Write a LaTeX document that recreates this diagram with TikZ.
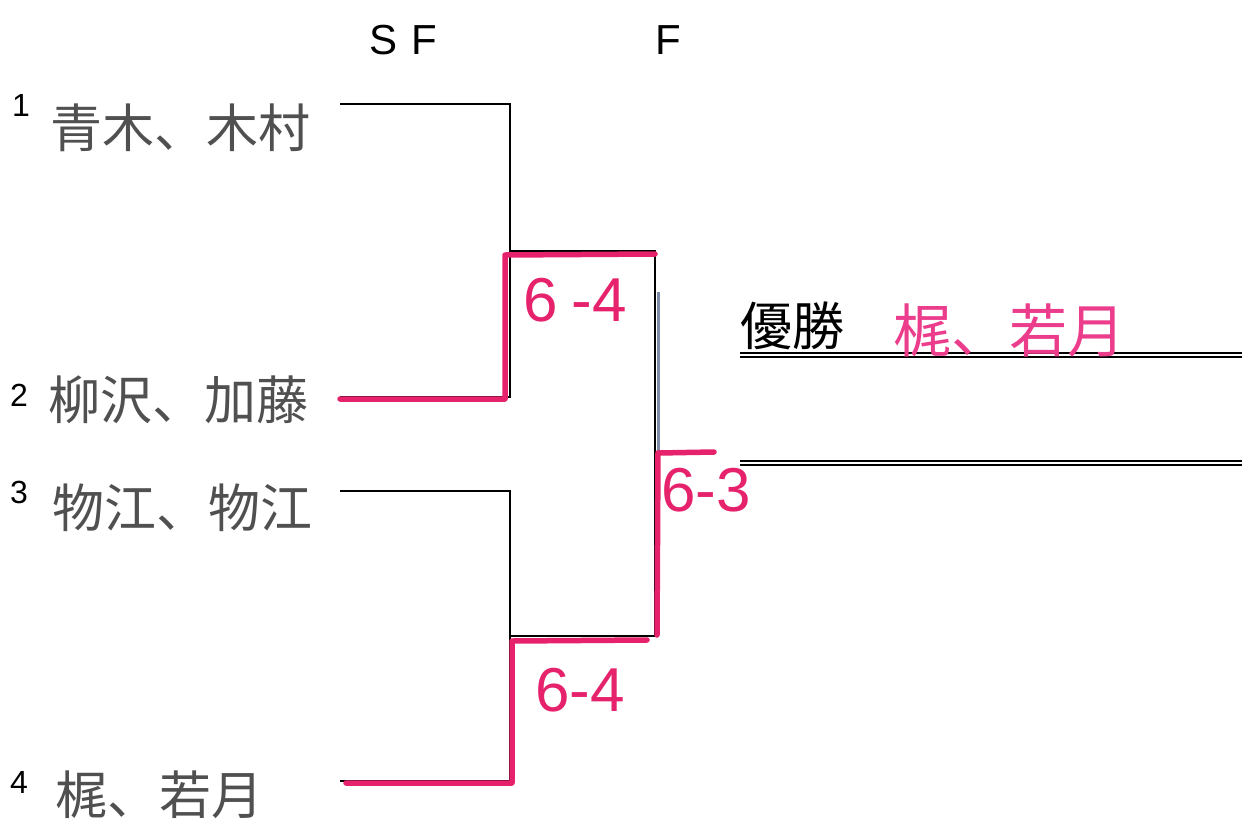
\documentclass[tikz,border=0pt]{standalone}
\usepackage{fontspec}
\setmainfont{Liberation Sans}
\newfontfamily\jp{Noto Sans CJK JP}
\definecolor{ink}{HTML}{505050}
\definecolor{pinkink}{HTML}{E5226B}
\definecolor{lightpink}{HTML}{EC3C8C}
\definecolor{blueink}{HTML}{7C8AA8}
\tikzset{
  bk/.style={draw=black, line width=2.8pt},
  pk/.style={draw=pinkink, line width=5.5pt, line join=round, line cap=round},
  dbl/.style={draw=black, line width=1.8pt},
  namebox/.style={anchor=west, text=ink, font=\jp\fontsize{52}{52}\selectfont, inner sep=0pt},
  numbox/.style={anchor=west, font=\fontsize{32}{32}\selectfont, inner sep=0pt},
  score/.style={text=pinkink, font=\fontsize{62}{62}\selectfont, inner sep=0pt},
  head/.style={font=\fontsize{42}{42}\selectfont, inner sep=0pt}
}
\begin{document}
\begin{tikzpicture}[x=1pt,y=-1pt]
\useasboundingbox[fill=white] (0,0) rectangle (1251,820);
% headers
\node[head] (hsf) at (403,40) {S\hspace{14pt}F};
\node[head] (hf) at (668,40) {F};
% numbers
\node[numbox] (n1) at (12,105) {1};
\node[numbox] (n2) at (10,395) {2};
\node[numbox] (n3) at (10,492) {3};
\node[numbox] (n4) at (10,782) {4};
% names
\node[namebox] (t1) at (50,128) {青木、木村};
\node[namebox] (t2) at (48,400) {柳沢、加藤};
\node[namebox] (t3) at (52,508) {物江、物江};
\node[namebox] (t4) at (55,795) {梶、若月};
% coordinates
\coordinate (p1) at (340,104); \coordinate (s1) at (510,104);
\coordinate (p2) at (340,397); \coordinate (s2) at (510,397);
\coordinate (p3) at (340,491); \coordinate (s3) at (510,491);
\coordinate (p4) at (340,781); \coordinate (s4) at (510,781);
\coordinate (m1) at (510,251); \coordinate (f1) at (655,251);
\coordinate (m2) at (510,636); \coordinate (f2) at (655,636);
% pink path points
\coordinate (q2a) at (340,399); \coordinate (q2b) at (505,399);
\coordinate (q1a) at (505,255); \coordinate (q1b) at (655,254);
\coordinate (q4a) at (346,783); \coordinate (q4b) at (512,783);
\coordinate (q3a) at (512,641); \coordinate (q3b) at (647,640);
\coordinate (fb) at (658,292); \coordinate (fm) at (658,453);
\coordinate (fl) at (657,635); \coordinate (fe) at (714,452);
% black bracket
\draw[bk] (p1) -- (s1) -- (s2) -- (p2);
\draw[bk] (p3) -- (s3) -- (s4) -- (p4);
\draw[bk] (m1) -- (f1) -- (f2) -- (m2);
% pink winners
\draw[pk] (q2a) -- (q2b) -- (q1a) -- (q1b);
\draw[pk] (q4a) -- (q4b) -- (q3a) -- (q3b);
\draw[draw=blueink, line width=3pt] (fb) -- (fm);
\draw[pk] (fl) -- (fm);
\draw[pk] (fm) -- (fe);
% final lines
\coordinate (w1a) at (740,353); \coordinate (w1b) at (1242,353);
\coordinate (w1c) at (740,357); \coordinate (w1d) at (1242,357);
\coordinate (w2a) at (740,461); \coordinate (w2b) at (1242,461);
\coordinate (w2c) at (740,465); \coordinate (w2d) at (1242,465);
\draw[dbl] (w1a) -- (w1b);
\draw[dbl] (w1c) -- (w1d);
\draw[dbl] (w2a) -- (w2b);
\draw[dbl] (w2c) -- (w2d);
% scores
\node[score] (sc1) at (575,300) {6\hspace{14pt}-4};
\node[score] (sc2) at (706,490) {6-3};
\node[score] (sc3) at (580,690) {6-4};
% winner
\node[anchor=base west, font=\jp\fontsize{52}{52}\selectfont, inner sep=0pt] (yu) at (740,345) {優勝};
\node[anchor=base west, text=lightpink, font=\jp\fontsize{58}{58}\selectfont, inner sep=0pt] (win) at (893,352) {梶、若月};
\end{tikzpicture}
\end{document}
